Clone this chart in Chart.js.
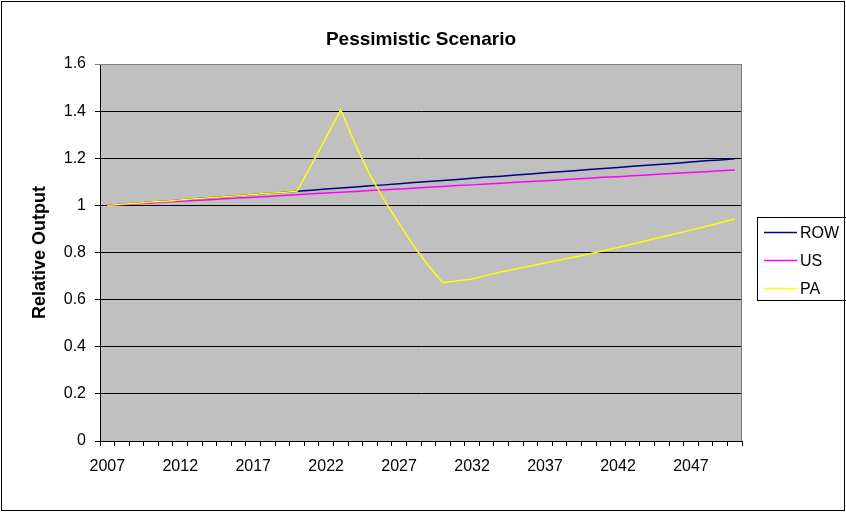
<!DOCTYPE html>
<html>
<head>
<meta charset="utf-8">
<title>Pessimistic Scenario</title>
<script src="https://cdn.jsdelivr.net/npm/chart.js@4.4.0/dist/chart.umd.min.js"></script>
<style>
  html, body { margin: 0; padding: 0; background: #fff; }
  #wrap { width: 846px; height: 512px; }
</style>
</head>
<body>
<div id="wrap"><canvas id="scenario" width="846" height="512"></canvas></div>
<script>
var years = ['2007', '2008', '2009', '2010', '2011', '2012', '2013', '2014', '2015', '2016',
             '2017', '2018', '2019', '2020', '2021', '2022', '2023', '2024', '2025', '2026',
             '2027', '2028', '2029', '2030', '2031', '2032', '2033', '2034', '2035', '2036',
             '2037', '2038', '2039', '2040', '2041', '2042', '2043', '2044', '2045', '2046',
             '2047', '2048', '2049', '2050'];

var rowOutput = [1.000, 1.005, 1.009, 1.014, 1.018, 1.023, 1.028, 1.032, 1.037, 1.041,
                 1.046, 1.051, 1.055, 1.060, 1.064, 1.069, 1.074, 1.078, 1.083, 1.087,
                 1.092, 1.097, 1.101, 1.106, 1.110, 1.115, 1.120, 1.124, 1.129, 1.133,
                 1.138, 1.143, 1.147, 1.152, 1.156, 1.161, 1.166, 1.170, 1.175, 1.179,
                 1.184, 1.189, 1.193, 1.198];

var usOutput = [1.000, 1.003, 1.007, 1.010, 1.014, 1.017, 1.021, 1.024, 1.028, 1.031,
                1.035, 1.038, 1.042, 1.045, 1.049, 1.052, 1.056, 1.059, 1.063, 1.066,
                1.070, 1.073, 1.077, 1.080, 1.084, 1.087, 1.091, 1.094, 1.098, 1.101,
                1.105, 1.108, 1.112, 1.115, 1.119, 1.122, 1.126, 1.129, 1.133, 1.136,
                1.140, 1.143, 1.147, 1.150];

var paOutput = [1.000, 1.005, 1.009, 1.014, 1.018, 1.023, 1.028, 1.032, 1.037, 1.041,
                1.046, 1.051, 1.055, 1.060, 1.173, 1.289, 1.405, 1.259, 1.129, 1.020,
                0.924, 0.828, 0.745, 0.672, 0.680, 0.688, 0.703, 0.717, 0.730, 0.743,
                0.755, 0.768, 0.781, 0.794, 0.807, 0.821, 0.836, 0.851, 0.866, 0.881,
                0.895, 0.910, 0.926, 0.942];

var seriesNames = ['ROW', 'US', 'PA'];
var seriesColours = ['#000080', '#ff00ff', '#ffff00'];
var chartTitle = 'Pessimistic Scenario';

var fontFamily = '"Liberation Sans", Arial, sans-serif';
Chart.defaults.font.family = fontFamily;
Chart.defaults.color = '#000';

// grey plot area, outer frame, title and the boxed legend on the right
var excelFrame = {
  id: 'excelFrame',
  beforeDraw: function(chart) {
    var ctx = chart.ctx, a = chart.chartArea;
    ctx.save();
    ctx.fillStyle = '#fff';
    ctx.fillRect(0, 0, chart.width, chart.height);
    ctx.fillStyle = '#c0c0c0';
    ctx.fillRect(a.left, a.top, a.right - a.left, a.bottom - a.top);
    ctx.restore();
  },
  beforeDatasetsDraw: function(chart) {
    var ctx = chart.ctx, a = chart.chartArea;
    ctx.save();
    ctx.strokeStyle = '#808080';
    ctx.lineWidth = 1;
    ctx.beginPath();
    ctx.moveTo(a.left, Math.round(a.top) + 0.5);
    ctx.lineTo(Math.round(a.right) - 0.5, Math.round(a.top) + 0.5);
    ctx.lineTo(Math.round(a.right) - 0.5, a.bottom);
    ctx.stroke();
    ctx.restore();
  },
  afterDraw: function(chart) {
    var ctx = chart.ctx;
    ctx.save();
    ctx.strokeStyle = '#000';
    ctx.lineWidth = 1;
    ctx.strokeRect(1.5, 1.5, 843, 509);

    ctx.fillStyle = '#000';
    ctx.font = 'bold 19px ' + fontFamily;
    ctx.textAlign = 'center';
    ctx.textBaseline = 'alphabetic';
    ctx.fillText(chartTitle, 421, 45);

    // legend
    ctx.strokeRect(757.5, 217.5, 100, 83);
    var rows = [232.5, 260.5, 288.5];
    ctx.font = '16px ' + fontFamily;
    ctx.textBaseline = 'middle';
    ctx.textAlign = 'left';
    chart.data.datasets.forEach(function(ds, i) {
      ctx.strokeStyle = ds.borderColor;
      ctx.lineWidth = 1.5;
      ctx.beginPath();
      ctx.moveTo(764, rows[i]);
      ctx.lineTo(797, rows[i]);
      ctx.stroke();
      ctx.fillStyle = '#000';
      ctx.fillText(ds.label, 800, rows[i] + 1);
    });
    ctx.restore();
  }
};

var makeSet = function(i, values, order) {
  return {
    label: seriesNames[i],
    data: values,
    borderColor: seriesColours[i],
    backgroundColor: seriesColours[i],
    borderWidth: 1.5,
    pointRadius: 0,
    pointHoverRadius: 0,
    tension: 0,
    fill: false,
    order: order
  };
};

var config = {
  type: 'line',
  data: {
    labels: years,
    datasets: [
      makeSet(0, rowOutput, 3),
      makeSet(1, usOutput, 2),
      makeSet(2, paOutput, 1)
    ]
  },
  options: {
    responsive: false,
    animation: false,
    layout: { padding: { left: 0, right: 104, top: 64, bottom: 0 } },
    plugins: {
      legend: { display: false },
      tooltip: { enabled: false },
      title: { display: false }
    },
    scales: {
      x: {
        type: 'category',
        offset: true,
        grid: {
          offset: true,
          drawOnChartArea: false,
          color: '#000',
          tickLength: 5
        },
        border: { display: true, color: '#000' },
        ticks: {
          autoSkip: false,
          maxRotation: 0,
          padding: 11,
          font: { size: 16 },
          callback: function(value, index) {
            return index % 5 === 0 ? years[index] : '';
          }
        },
        afterFit: function(scale) { scale.height = 71; }
      },
      y: {
        min: 0,
        max: 1.6,
        grid: {
          color: function(c) { return c.tick && c.tick.value >= 1.6 ? '#808080' : '#000'; },
          tickLength: 5
        },
        border: { display: true, color: '#000' },
        ticks: {
          stepSize: 0.2,
          padding: 9,
          font: { size: 16 },
          callback: function(value) {
            return String(Math.round(value * 10) / 10);
          }
        },
        title: {
          display: true,
          text: 'Relative Output',
          font: { size: 18, weight: 'bold' },
          padding: { top: 29, bottom: 0 }
        },
        afterFit: function(scale) { scale.width = 100; }
      }
    }
  },
  plugins: [excelFrame]
};

var ctx = document.getElementById('scenario').getContext('2d');
window.scenarioChart = new Chart(ctx, config);
</script>
</body>
</html>
